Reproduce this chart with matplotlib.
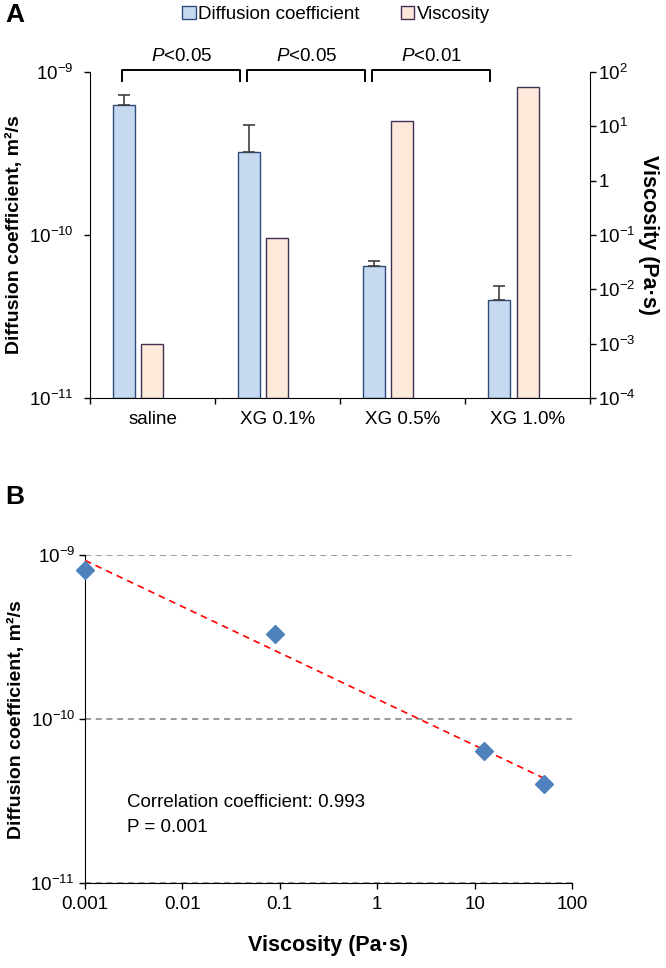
import numpy as np
import matplotlib.pyplot as plt
from matplotlib.patches import Patch
from matplotlib.ticker import FuncFormatter, NullLocator

# Fonts (Arial-like)
plt.rcParams['font.family'] = ['Liberation Sans', 'DejaVu Sans']
plt.rcParams['mathtext.fontset'] = 'custom'
plt.rcParams['mathtext.rm'] = 'Liberation Sans'
plt.rcParams['mathtext.it'] = 'Liberation Sans:italic'
plt.rcParams['mathtext.bf'] = 'Liberation Sans:bold'

# Dados - painel A
groups = ['saline', 'XG 0.1%', 'XG 0.5%', 'XG 1.0%']
diffusion = [6.3e-10, 3.25e-10, 6.5e-11, 4.0e-11]
diffusion_err = [0.95e-10, 1.5e-10, 0.4e-11, 0.85e-11]
viscosity = [0.001, 0.09, 12.4, 52]
p_labels = ['<0.05', '<0.05', '<0.01']

# Dados - painel B
diffusion_b = [8.1e-10, 3.3e-10, 6.4e-11, 4.0e-11]
corr_text = 'Correlation coefficient: 0.993'
p_text = 'P = 0.001'

# Ticks
diff_ticks = [1e-11, 1e-10, 1e-9]
visc_ticks = [1e-4, 1e-3, 1e-2, 1e-1, 1, 10, 100]
visc_b_ticks = [0.001, 0.01, 0.1, 1, 10, 100]

blue_fill, blue_edge = '#C6D9F1', '#2F4B7C'
peach_fill, peach_edge = '#FDE9D9', '#403152'
fs = 13.5


def pow10(v, pos):
    e = int(round(np.log10(v)))
    return '1' if e == 0 else r'$10^{%d}$' % e


fig = plt.figure(figsize=(6.66, 9.68), dpi=100)

# ---------------- Painel A ----------------
axA = fig.add_axes([0.1351, 0.5888, 0.7508, 0.3368])
axV = axA.twinx()
x = np.arange(len(groups))
w = 0.176
d_min, v_min = diff_ticks[0], visc_ticks[0]

axA.set_yscale('log')
axA.bar(x - 0.23, np.array(diffusion) - d_min, w, bottom=d_min,
        color=blue_fill, edgecolor=blue_edge, linewidth=1, zorder=2)
axA.errorbar(x - 0.23, diffusion, yerr=[np.zeros(len(x)), diffusion_err],
             fmt='none', ecolor='#404040', elinewidth=1.2, capsize=4.5,
             capthick=1.2, zorder=3)
axA.set_yticks(diff_ticks)
axA.set_ylim(diff_ticks[0], diff_ticks[-1])

axV.set_yscale('log')
axV.bar(x, np.array(viscosity) - v_min, w, bottom=v_min,
        color=peach_fill, edgecolor=peach_edge, linewidth=1, zorder=2)
axV.set_yticks(visc_ticks)
axV.set_ylim(visc_ticks[0], visc_ticks[-1])

axA.set_xlim(-0.5, len(groups) - 0.5)
axA.set_xticks(x)
axA.set_xticklabels(groups)
axA.set_xticks(np.arange(len(groups) + 1) - 0.5, minor=True)
axA.tick_params(axis='x', which='major', length=0, labelsize=fs, pad=9)
axA.tick_params(axis='x', which='minor', length=4, width=1, direction='out')
axA.yaxis.set_minor_locator(NullLocator())
axA.yaxis.set_major_formatter(FuncFormatter(pow10))
axA.tick_params(axis='y', which='major', length=4, width=1, labelsize=fs, pad=8)
axV.yaxis.set_minor_locator(NullLocator())
axV.yaxis.set_major_formatter(FuncFormatter(pow10))
axV.tick_params(axis='y', which='major', length=4, width=1, labelsize=fs, pad=2)

axA.spines['top'].set_visible(False)
axA.spines['right'].set_visible(False)
for s in ['top', 'left', 'bottom']:
    axV.spines[s].set_visible(False)

# Colchetes de significância
trans = axA.get_xaxis_transform()
for i, p in enumerate(p_labels):
    x0, x1 = i - 0.24, i + 0.70
    axA.plot([x0, x0, x1, x1], [0.972, 1.006, 1.006, 0.972], transform=trans,
             color='black', lw=1.4, clip_on=False)
    axA.text((x0 + x1) / 2, 1.049, '$P$' + p, transform=trans,
             ha='center', va='center', fontsize=fs)

fig.text(14 / 666, 1 - 235 / 968, 'Diffusion coefficient, m²/s', rotation=90,
         ha='center', va='center', fontsize=14, fontweight='bold')
fig.text(648 / 666, 1 - 235 / 968, 'Viscosity (Pa·s)', rotation=270,
         ha='center', va='center', fontsize=15.5, fontweight='bold')

fig.legend(handles=[Patch(facecolor=blue_fill, edgecolor=blue_edge, label='Diffusion coefficient'),
                    Patch(facecolor=peach_fill, edgecolor=peach_edge, label='Viscosity')],
           loc='center', bbox_to_anchor=(0.505, 0.985), ncol=2, frameon=False,
           fontsize=fs, handlelength=0.7, handleheight=0.7, handletextpad=0.15,
           columnspacing=2.2)

fig.text(0.008, 0.9845, 'A', ha='left', va='center', fontsize=19, fontweight='bold')

# ---------------- Painel B ----------------
axB = fig.add_axes([0.1276, 0.0878, 0.7312, 0.3388])
axB.set_xscale('log')
axB.set_yscale('log')
axB.set_xticks(visc_b_ticks)
axB.set_yticks(diff_ticks)
axB.set_xlim(visc_b_ticks[0], visc_b_ticks[-1])
axB.set_ylim(diff_ticks[0], diff_ticks[-1])
axB.yaxis.grid(True, which='major', linestyle=(0, (4, 3)), color='#808080', lw=1.1)
axB.set_axisbelow(True)

lx = np.log10(viscosity)
coef = np.polyfit(lx, np.log10(diffusion_b), 1)
xs = np.logspace(lx.min(), lx.max(), 50)
axB.plot(xs, 10 ** np.polyval(coef, np.log10(xs)), color='red', lw=1.2,
         linestyle=(0, (4, 3)), zorder=3)
axB.plot(viscosity, diffusion_b, 'D', color='#4F81BD', ms=9, clip_on=False, zorder=4)

axB.xaxis.set_minor_locator(NullLocator())
axB.yaxis.set_minor_locator(NullLocator())
axB.xaxis.set_major_formatter(FuncFormatter(lambda v, pos: '%g' % v))
axB.yaxis.set_major_formatter(FuncFormatter(pow10))
axB.tick_params(axis='x', length=4, width=1, labelsize=fs, pad=5)
axB.tick_params(axis='y', length=4, width=1, labelsize=fs, pad=3)
axB.spines['top'].set_visible(False)
axB.spines['right'].set_visible(False)

axB.text(0.086, 0.244, corr_text, transform=axB.transAxes, ha='left', va='center', fontsize=fs)
axB.text(0.086, 0.168, p_text, transform=axB.transAxes, ha='left', va='center', fontsize=fs)

fig.text(16 / 666, 1 - 720 / 968, 'Diffusion coefficient, m²/s', rotation=90,
         ha='center', va='center', fontsize=14, fontweight='bold')
fig.text(328 / 666, 1 - 945 / 968, 'Viscosity (Pa·s)', ha='center', va='center',
         fontsize=15.5, fontweight='bold')
fig.text(0.008, 0.4866, 'B', ha='left', va='center', fontsize=19, fontweight='bold')

plt.savefig('out.png', dpi=100)
